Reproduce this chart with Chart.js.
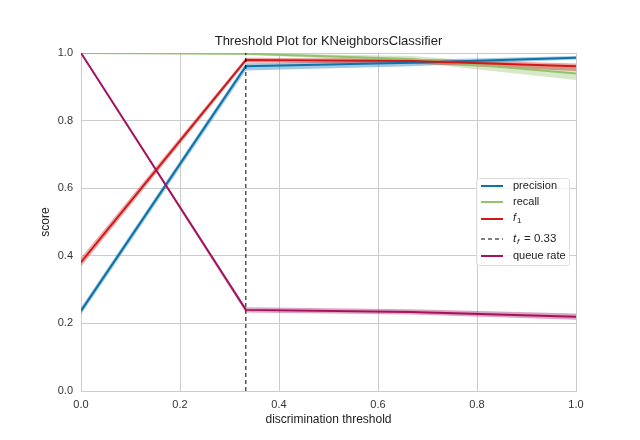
<!DOCTYPE html>
<html>
<head>
<meta charset="utf-8">
<script src="https://cdn.jsdelivr.net/npm/chart.js@4/dist/chart.umd.min.js"></script>
<style>
  html, body { margin: 0; padding: 0; background: #fff; }
  #wrap { width: 640px; height: 440px; }
</style>
</head>
<body>
<div id="wrap"><canvas id="myChart" width="640" height="440"></canvas></div>
<script>
// discrimination thresholds (KNN with k=3 -> probabilities 0, 1/3, 2/3, 1)
const thresholds = [0, 0.333, 0.667, 1.0];

const precision = [0.237, 0.961, 0.971, 0.986];
const precisionLow = [0.226, 0.948, 0.961, 0.981];
const precisionHigh = [0.247, 0.970, 0.979, 0.991];

const recall = [1.0, 0.998, 0.982, 0.939];
const recallLow = [1.0, 0.995, 0.973, 0.920];
const recallHigh = [1.0, 1.0, 0.991, 0.956];

const f1 = [0.381, 0.979, 0.976, 0.961];
const f1Low = [0.368, 0.972, 0.969, 0.947];
const f1High = [0.394, 0.986, 0.983, 0.969];

const queueRate = [1.0, 0.240, 0.234, 0.220];
const queueLow = [0.996, 0.232, 0.226, 0.211];
const queueHigh = [1.0, 0.248, 0.242, 0.229];

const bestThreshold = 0.333;
const xTicks = [0, 0.2, 0.4, 0.6, 0.8, 1.0];
const yTicks = [0, 0.2, 0.4, 0.6, 0.8, 1.0];

const colors = {
  precision: "#0D71AB",
  recall: "#93C26E",
  f1: "#D01818",
  queue: "#A3125E",
};

const pts = (ys) => thresholds.map((x, i) => ({ x: x, y: ys[i] }));

function withAlpha(hex, a) {
  const n = parseInt(hex.slice(1), 16);
  return `rgba(${(n >> 16) & 255},${(n >> 8) & 255},${n & 255},${a})`;
}

function band(low, high, color, order) {
  return [
    { data: pts(low), borderWidth: 0, pointRadius: 0, fill: false, order: order },
    { data: pts(high), borderWidth: 0, pointRadius: 0, fill: "-1",
      backgroundColor: withAlpha(color, 0.38), order: order },
  ];
}

function line(label, ys, color, order) {
  return { label: label, data: pts(ys), borderColor: color, borderWidth: 2,
    pointRadius: 0, fill: false, order: order };
}

const datasets = [
  ...band(precisionLow, precisionHigh, colors.precision, 20),
  ...band(recallLow, recallHigh, colors.recall, 19),
  ...band(f1Low, f1High, colors.f1, 18),
  ...band(queueLow, queueHigh, colors.queue, 17),
  line("precision", precision, colors.precision, 5),
  line("recall", recall, colors.recall, 4),
  line("f1", f1, colors.f1, 3),
  { label: "tf", data: [{ x: bestThreshold, y: 0 }, { x: bestThreshold, y: 1 }],
    borderColor: "#000", borderWidth: 1, borderDash: [4, 3], pointRadius: 0, fill: false, order: 2 },
  line("queue rate", queueRate, colors.queue, 1),
];

const FONT = "'Liberation Sans', Arial, sans-serif";

// title + legend drawn inside the fixed layout
const decor = {
  id: "decor",
  afterDraw: (chart) => {
    const { ctx, chartArea } = chart;
    ctx.save();
    ctx.fillStyle = "#222";
    ctx.font = "13px " + FONT;
    ctx.textAlign = "center";
    ctx.textBaseline = "middle";
    ctx.fillText("Threshold Plot for KNeighborsClassifier", (chartArea.left + chartArea.right) / 2, 41.5);

    // legend box
    const bx = 476.5, by = 178.5, bw = 93, bh = 87;
    ctx.fillStyle = "rgba(255,255,255,0.8)";
    ctx.strokeStyle = "#dddddd";
    ctx.lineWidth = 1;
    ctx.beginPath();
    ctx.roundRect(bx, by, bw, bh, 3);
    ctx.fill();
    ctx.stroke();

    const items = [
      { key: "precision", color: colors.precision, y: 186 },
      { key: "recall", color: colors.recall, y: 202 },
      { key: "f1", color: colors.f1, y: 219 },
      { key: "tf", color: "#000", y: 239, dash: true },
      { key: "queue rate", color: colors.queue, y: 256 },
    ];
    ctx.textAlign = "left";
    for (const it of items) {
      ctx.strokeStyle = it.color;
      ctx.lineWidth = it.dash ? 1 : 2;
      ctx.setLineDash(it.dash ? [4, 3] : []);
      ctx.beginPath();
      ctx.moveTo(481, it.y);
      ctx.lineTo(503, it.y);
      ctx.stroke();
      ctx.setLineDash([]);
      ctx.fillStyle = "#222";
      const tx = 513;
      if (it.key === "f1") {
        ctx.font = "italic 11px " + FONT;
        ctx.fillText("f", tx, it.y - 1);
        ctx.font = "8px " + FONT;
        ctx.fillText("1", tx + 4, it.y + 2);
      } else if (it.key === "tf") {
        ctx.font = "italic 11.5px " + FONT;
        ctx.fillText("t", tx, it.y);
        ctx.font = "italic 8px " + FONT;
        ctx.fillText("f", tx + 4, it.y + 3);
        ctx.font = "11.5px " + FONT;
        ctx.fillText("= " + bestThreshold.toFixed(2), tx + 11, it.y);
      } else {
        ctx.font = "11px " + FONT;
        ctx.fillText(it.key, tx, it.y);
      }
    }
    ctx.restore();
  },
};

const bg = {
  id: "bg",
  beforeDraw: (chart) => {
    const { ctx } = chart;
    ctx.save();
    ctx.fillStyle = "#fff";
    ctx.fillRect(0, 0, chart.width, chart.height);
    ctx.restore();
  },
};

new Chart(document.getElementById("myChart"), {
  type: "line",
  data: { datasets: datasets },
  options: {
    responsive: false,
    animation: false,
    layout: { padding: { left: 34, right: 64, top: 53, bottom: 0 } },
    plugins: {
      legend: { display: false },
      tooltip: { enabled: false },
      title: { display: false },
    },
    scales: {
      x: {
        type: "linear",
        min: 0,
        max: 1,
        afterBuildTicks: (s) => { s.ticks = xTicks.map((v) => ({ value: v })); },
        afterFit: (s) => { s.height = 49; },
        ticks: { callback: (v) => v.toFixed(1), color: "#333", font: { family: FONT, size: 11 }, padding: 7, maxRotation: 0 },
        grid: { color: "#cccccc", lineWidth: 1, drawTicks: false },
        border: { color: "#cccccc" },
        title: { display: true, text: "discrimination threshold", color: "#222",
          font: { family: FONT, size: 12 }, padding: { top: 4, bottom: 13 } },
      },
      y: {
        type: "linear",
        min: 0,
        max: 1,
        afterBuildTicks: (s) => { s.ticks = yTicks.map((v) => ({ value: v })); },
        afterFit: (s) => { s.width = 47; },
        ticks: { callback: (v) => v.toFixed(1), color: "#333", font: { family: FONT, size: 11 }, padding: 8 },
        grid: { color: "#cccccc", lineWidth: 1, drawTicks: false },
        border: { color: "#cccccc" },
        title: { display: true, text: "score", color: "#222",
          font: { family: FONT, size: 12 }, padding: { top: 4, bottom: 4 } },
      },
    },
  },
  plugins: [bg, decor],
});
</script>
</body>
</html>
